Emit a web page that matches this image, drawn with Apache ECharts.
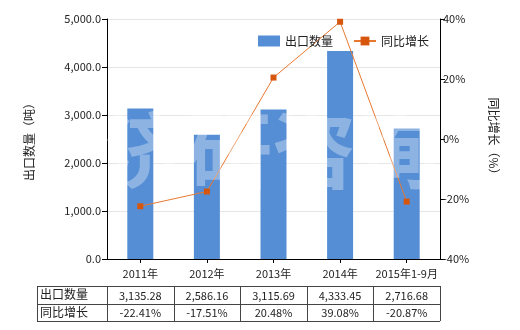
<!DOCTYPE html>
<html><head><meta charset="utf-8">
<script src="https://cdn.jsdelivr.net/npm/echarts@6/dist/echarts.min.js"></script>
<style>html,body{margin:0;padding:0;background:#fff}#c{width:520px;height:330px}</style>
</head><body><div id="c"></div>
<script>
const categories = ['2011年','2012年','2013年','2014年','2015年1-9月'];
const exportQty = [3135.28, 2586.16, 3115.69, 4333.45, 2716.68];
const yoyGrowth = [-22.41, -17.51, 20.48, 39.08, -20.87];
const qtyLabels = ['3,135.28','2,586.16','3,115.69','4,333.45','2,716.68'];
const yoyLabels = ['-22.41%','-17.51%','20.48%','39.08%','-20.87%'];
const seriesNames = ['出口数量','同比增长'];

const FONT = '"Noto Sans CJK SC", "Noto Sans", sans-serif';
const chart = echarts.init(document.getElementById('c'));
const fmt = v => v.toLocaleString('en-US',{minimumFractionDigits:1,maximumFractionDigits:1});
chart.setOption({
  animation:false,
  textStyle:{fontFamily:FONT},
  legend:{
    data:[{name:seriesNames[0],icon:'rect'},{name:seriesNames[1]}],
    left:253, top:30, itemWidth:22, itemHeight:11, itemGap:20,
    textStyle:{fontSize:12,color:'#222',fontFamily:FONT}
  },
  grid:{left:107,right:80,top:19,bottom:71},
  xAxis:{
    type:'category', data:categories,
    axisLine:{lineStyle:{color:'#000'}},
    axisTick:{show:true,alignWithLabel:true,length:4,lineStyle:{color:'#000'}},
    axisLabel:{interval:0,color:'#222',fontSize:11,margin:9,fontFamily:FONT}
  },
  yAxis:[{
    type:'value', min:0, max:5000, interval:1000,
    name:'出口数量（吨）', nameLocation:'middle', nameGap:72, nameRotate:90,
    nameTextStyle:{fontSize:12,color:'#222',fontFamily:FONT},
    axisLine:{show:true,lineStyle:{color:'#000'}},
    axisTick:{show:true,length:5,lineStyle:{color:'#000'}},
    axisLabel:{formatter:fmt,color:'#222',fontSize:11,margin:6,fontFamily:FONT},
    splitLine:{lineStyle:{color:'#e6e6e6'}}
  },{
    type:'value', min:-40, max:40, interval:20,
    name:'同比增长（%）', nameLocation:'middle', nameGap:48, nameRotate:-90,
    nameTextStyle:{fontSize:12,color:'#222',fontFamily:FONT},
    axisLine:{show:true,lineStyle:{color:'#000'}},
    axisTick:{show:true,length:5,lineStyle:{color:'#000'}},
    axisLabel:{formatter:'{value}%',color:'#222',fontSize:11,margin:3,fontFamily:FONT},
    splitLine:{show:false}
  }],
  series:[{
    name:seriesNames[0], type:'bar', data:exportQty, barWidth:26,
    itemStyle:{color:'#558ED5'}
  },{
    name:seriesNames[1], type:'line', yAxisIndex:1, data:yoyGrowth,
    symbol:'rect', symbolSize:6,
    lineStyle:{color:'#E87830',width:1},
    itemStyle:{color:'#D6560E'}
  }]
});

function drawTable(){
  const els=[];
  const y0=286, rh=17.5, x0=37;
  const xs = categories.map((c,i)=>chart.convertToPixel({xAxisIndex:0},c));
  const step = xs.length>1 ? xs[1]-xs[0] : 66;
  const colL = xs[0]-step/2, xEnd = xs[xs.length-1]+step/2;
  const ls={stroke:'#444',lineWidth:1};
  [y0,y0+rh,y0+2*rh].forEach(y=>els.push({type:'line',shape:{x1:x0,y1:Math.round(y)+0.5,x2:xEnd,y2:Math.round(y)+0.5},style:ls}));
  [x0,colL].concat(xs.map(x=>x+step/2)).forEach(x=>els.push({type:'line',shape:{x1:Math.round(x)+0.5,y1:y0,x2:Math.round(x)+0.5,y2:y0+2*rh},style:ls}));
  const rows=[qtyLabels,yoyLabels];
  seriesNames.forEach((n,r)=>{
    els.push({type:'text',x:x0+3,y:y0+r*rh+rh/2,style:{text:n,fill:'#222',font:'12px '+FONT,textVerticalAlign:'middle'}});
    rows[r].forEach((t,i)=>els.push({type:'text',x:xs[i],y:y0+r*rh+rh/2+1,style:{text:t,fill:'#222',font:'11px '+FONT,textAlign:'center',textVerticalAlign:'middle'}}));
  });
  els.push({type:'text',x:272,y:150,z:100,style:{text:'济研咨询',fill:'rgba(255,255,255,0.33)',font:'bold 84px '+FONT,textAlign:'center',textVerticalAlign:'middle'}});
  chart.setOption({graphic:els});
}
drawTable();
</script></body></html>
